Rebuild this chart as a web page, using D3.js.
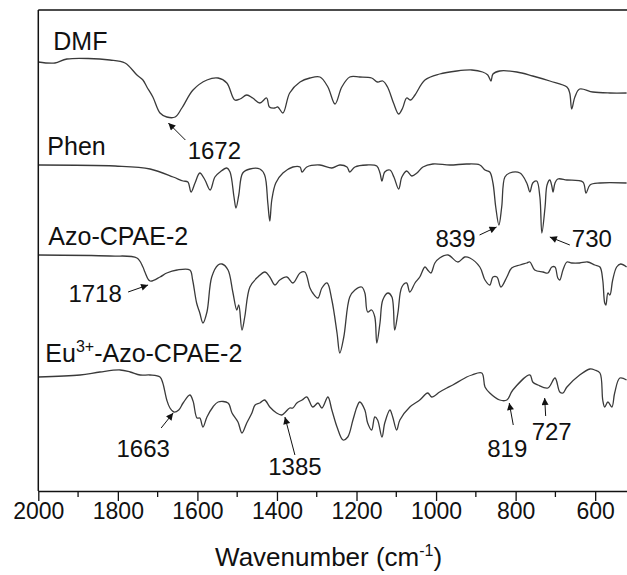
<!DOCTYPE html>
<html>
<head>
<meta charset="utf-8">
<script src="https://cdn.jsdelivr.net/npm/d3@7"></script>
<style>
  body { margin: 0; background: #fff; }
  svg text { font-family: Arial, "Liberation Sans", sans-serif; fill: #111; }
</style>
</head>
<body>
<div id="chart"></div>
<script>
// wavenumber (cm-1), offset transmittance (a.u.)
const dmf = [
  [2000,429],[1958,428],[1928,432],[1820,431],[1782,428],[1752,416],[1737,411],[1727,404],
  [1712,394],[1694,378],[1677,374],[1656,374],[1639,383],[1611,401],[1576,411],[1548,413],
  [1526,408],[1506,391],[1493,392],[1476,396],[1461,393],[1443,388],[1426,393],[1419,384],
  [1406,383],[1398,384],[1385,378],[1368,398],[1342,409],[1317,413],[1292,414],[1272,404],
  [1254,387],[1237,404],[1217,414],[1192,414],[1162,413],[1147,409],[1134,410],[1122,404],
  [1107,388],[1094,377],[1084,383],[1074,393],[1064,391],[1053,396],[1028,411],[991,417],
  [948,420],[910,421],[883,419],[870,416],[862,410],[857,417],[840,420],[797,419],[757,415],
  [714,410],[671,404],[664,398],[659,382],[651,394],[639,402],[606,399],[563,398],[521,398]
];
const phen = [
  [2000,326],[1807,325],[1719,322],[1661,314],[1636,310],[1624,309],[1616,299],[1606,308],
  [1594,318],[1581,311],[1568,301],[1556,314],[1543,319],[1526,323],[1518,319],[1508,294],
  [1503,283],[1496,296],[1486,318],[1468,322],[1443,322],[1431,316],[1423,288],[1418,270],
  [1413,291],[1403,308],[1385,318],[1360,324],[1342,324],[1337,319],[1325,324],[1292,326],
  [1262,323],[1242,326],[1224,324],[1217,319],[1204,324],[1174,326],[1149,325],[1141,318],
  [1136,310],[1129,319],[1116,321],[1106,314],[1094,302],[1086,314],[1074,320],[1061,315],
  [1048,318],[1033,324],[1008,327],[965,326],[923,327],[890,326],[877,321],[865,319],
  [857,308],[850,284],[842,266],[835,284],[827,314],[815,318],[789,318],[772,308],[764,299],
  [757,308],[747,310],[739,294],[734,258],[726,284],[721,306],[714,311],[709,305],[706,299],
  [701,308],[694,312],[671,311],[631,309],[623,298],[613,306],[588,308],[521,308]
];
const azo = [
  [2000,236],[1820,235],[1752,233],[1737,224],[1732,219],[1719,210],[1694,214],[1677,218],
  [1651,221],[1619,221],[1612,211],[1602,188],[1594,178],[1586,168],[1576,179],[1564,214],
  [1548,226],[1538,227],[1523,221],[1511,199],[1501,181],[1496,186],[1488,161],[1481,174],
  [1468,204],[1448,214],[1430,219],[1418,214],[1405,206],[1393,211],[1375,214],[1360,208],
  [1342,218],[1330,219],[1317,203],[1310,198],[1297,193],[1287,203],[1274,208],[1262,191],
  [1249,158],[1242,138],[1232,154],[1217,194],[1204,201],[1187,204],[1179,198],[1172,179],
  [1162,181],[1154,174],[1149,148],[1141,168],[1134,191],[1121,198],[1111,194],[1104,161],
  [1096,178],[1086,204],[1074,208],[1066,199],[1053,208],[1041,214],[1028,224],[1021,221],
  [1013,218],[1003,228],[991,233],[970,236],[945,229],[928,234],[915,233],[890,224],[877,211],
  [865,206],[857,214],[847,214],[837,204],[822,214],[810,223],[789,226],[772,228],[764,229],
  [752,221],[731,219],[719,218],[709,224],[701,224],[694,213],[689,211],[681,221],[671,229],
  [659,228],[639,228],[619,229],[601,226],[588,224],[581,211],[576,188],[573,186],[568,198],
  [563,196],[556,211],[546,224],[536,227],[521,224]
];
const eu = [
  [2000,114],[1895,116],[1845,119],[1794,121],[1769,119],[1744,116],[1719,116],[1694,114],
  [1687,108],[1677,91],[1669,83],[1659,79],[1647,81],[1636,88],[1619,96],[1611,90],[1601,73],
  [1594,73],[1586,64],[1576,74],[1561,84],[1548,89],[1523,88],[1513,78],[1498,69],[1488,58],
  [1476,68],[1463,78],[1455,86],[1443,88],[1431,91],[1418,84],[1401,78],[1388,76],[1381,78],
  [1368,83],[1360,83],[1350,88],[1337,91],[1325,94],[1310,84],[1297,88],[1287,83],[1272,94],
  [1262,81],[1249,64],[1234,51],[1222,54],[1209,71],[1199,84],[1192,89],[1179,81],[1172,68],
  [1162,61],[1154,74],[1147,71],[1136,54],[1129,68],[1116,81],[1109,74],[1099,61],[1091,71],
  [1066,84],[1041,91],[1021,98],[1011,94],[991,99],[973,103],[958,106],[923,114],[910,116],
  [885,118],[877,104],[865,98],[840,91],[822,91],[807,101],[764,116],[757,109],[744,106],
  [719,103],[701,113],[689,99],[681,98],[671,104],[639,116],[613,122],[601,121],[588,118],
  [581,91],[576,84],[568,89],[558,84],[551,98],[538,113],[521,111]
];
const seriesNames = ["DMF", "Phen", "Azo-CPAE-2", "Eu3+-Azo-CPAE-2"];
const series = [dmf, phen, azo, eu];

// peak marks: label, wavenumber at arrow tip, value at arrow tip
const peakLabels = ["1672", "1718", "839", "730", "1663", "1385", "819", "727"];
const peakTipWn = [1673, 1724, 848, 714, 1661, 1380, 816, 727];
const peakTipVal = [368, 206, 264, 254, 78, 74, 88, 93];

const majorTicks = [2000, 1800, 1600, 1400, 1200, 1000, 800, 600];
const minorTicks = [1900, 1700, 1500, 1300, 1100, 900, 700];

const margin = {top: 10, right: 0, bottom: 84, left: 38.3},
    width = 627 - margin.left - margin.right,
    height = 575 - margin.top - margin.bottom;

const svg = d3.select("#chart").append("svg")
    .attr("width", 627)
    .attr("height", 575)
  .append("g")
    .attr("transform", "translate(" + margin.left + "," + margin.top + ")");

const x = d3.scaleLinear().domain([2000, 520]).range([0, width]);
const y = d3.scaleLinear().domain([0, 481]).range([height, 0]);

// spectra
const line = d3.line()
    .x(d => x(d[0]))
    .y(d => y(d[1]))
    .curve(d3.curveCatmullRom.alpha(0.5));

svg.selectAll(".spec")
    .data(series)
    .enter().append("path")
    .attr("class", "spec")
    .attr("d", line)
    .attr("fill", "none")
    .attr("stroke", "#3a3a3a")
    .attr("stroke-width", 1.3);

// frame: left axis line + top line
svg.append("line").attr("x1", 0).attr("x2", 0).attr("y1", 0).attr("y2", height)
    .attr("stroke", "#111").attr("stroke-width", 1.5);
svg.append("line").attr("x1", 0).attr("x2", width).attr("y1", 0).attr("y2", 0)
    .attr("stroke", "#111").attr("stroke-width", 1.5);

// bottom axis
const xAxis = svg.append("g")
    .attr("transform", "translate(0," + height + ")")
    .call(d3.axisBottom(x).tickValues(majorTicks).tickFormat(d3.format("d"))
        .tickSize(10).tickSizeOuter(0).tickPadding(2));
xAxis.select(".domain").attr("stroke", "#111").attr("stroke-width", 1.5);
xAxis.selectAll(".tick line").attr("stroke", "#111").attr("stroke-width", 1.3);
xAxis.selectAll(".tick text").style("font-size", "23px").attr("fill", "#111")
    .style("font-family", "Arial, 'Liberation Sans', sans-serif");

svg.append("g")
    .attr("transform", "translate(0," + height + ")")
    .selectAll("line")
    .data(minorTicks)
    .enter().append("line")
    .attr("x1", d => x(d)).attr("x2", d => x(d))
    .attr("y1", 0).attr("y2", 6)
    .attr("stroke", "#111").attr("stroke-width", 1.3);

// axis title
const title = svg.append("text")
    .attr("x", width / 2 - 4)
    .attr("y", height + 75)
    .attr("text-anchor", "middle")
    .style("font-size", "26px");
title.append("tspan").text("Wavenumber (cm");
title.append("tspan").attr("dy", -10).style("font-size", "16px").text("-1");
title.append("tspan").attr("dy", 10).text(")");

// curve labels
const nameX = [15, 9, 10, 7];
const nameY = [40, 145, 235, 352];
svg.selectAll(".name")
    .data(seriesNames)
    .enter().append("text")
    .attr("class", "name")
    .attr("x", (d, i) => nameX[i])
    .attr("y", (d, i) => nameY[i])
    .style("font-size", "25px")
    .each(function(d) {
        const t = d3.select(this);
        if (d.indexOf("3+") > 0) {
            t.append("tspan").text("Eu");
            t.append("tspan").attr("dy", -10).style("font-size", "16px").text("3+");
            t.append("tspan").attr("dy", 10).text("-Azo-CPAE-2");
        } else {
            t.text(d);
        }
    });

// arrows for the marked peaks
const defs = svg.append("defs");
defs.append("marker")
    .attr("id", "arrow")
    .attr("viewBox", "0 0 10 10")
    .attr("refX", 10).attr("refY", 5)
    .attr("markerWidth", 9).attr("markerHeight", 7)
    .attr("markerUnits", "userSpaceOnUse")
    .attr("orient", "auto")
  .append("path")
    .attr("d", "M0,0 L10,5 L0,10 z")
    .attr("fill", "#111");

// tail offsets and label offsets from the arrow tip (px)
const tailDx = [17, -20, -17, 20, -12, 10, 4, 1];
const tailDy = [17, 7, 8, 8, 15, 38, 22, 18];
const labDx = [46, -53, -41, 42, -30, 10, -2, 7];
const labDy = [36, 17, 20, 10, 44, 58, 54, 42];

const ann = svg.selectAll(".ann")
    .data(peakLabels)
    .enter().append("g")
    .attr("class", "ann")
    .attr("transform", (d, i) => "translate(" + x(peakTipWn[i]) + "," + y(peakTipVal[i]) + ")");

ann.append("line")
    .attr("x1", (d, i) => tailDx[i]).attr("y1", (d, i) => tailDy[i])
    .attr("x2", 0).attr("y2", 0)
    .attr("stroke", "#111").attr("stroke-width", 1)
    .attr("marker-end", "url(#arrow)");

ann.append("text")
    .attr("x", (d, i) => labDx[i])
    .attr("y", (d, i) => labDy[i])
    .attr("text-anchor", "middle")
    .style("font-size", "24px")
    .text(d => d);
</script>
</body>
</html>
